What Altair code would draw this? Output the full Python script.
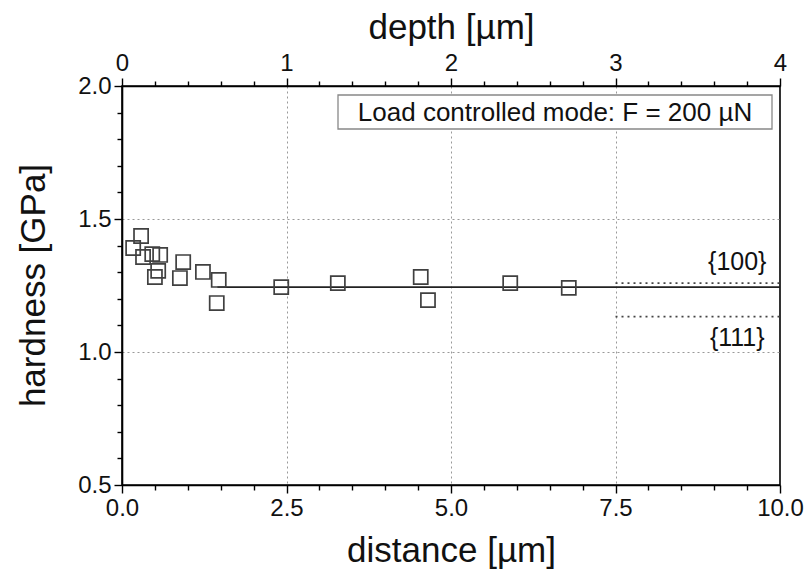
import altair as alt
import pandas as pd

# ---- data ----
distance = [0.17, 0.29, 0.32, 0.46, 0.58, 0.55, 0.50, 0.93, 0.88, 1.23, 1.47, 1.44,
            2.42, 3.28, 4.54, 4.65, 5.90, 6.79]
hardness = [1.391, 1.436, 1.357, 1.368, 1.365, 1.305, 1.282, 1.338, 1.278, 1.301,
            1.271, 1.184, 1.244, 1.259, 1.282, 1.195, 1.259, 1.241]

fit_distance = [1.45, 10.0]
fit_hardness = [1.244, 1.244]

ref_names = ["{100}", "{111}"]
ref_hardness = [1.259, 1.133]
ref_start = [7.5, 7.5]
ref_end = [10.0, 10.0]
ref_label_distance = [9.35, 9.35]
ref_label_hardness = [1.338, 1.053]

legend_text = ["Load controlled mode: F = 200 \u00b5N"]

distance_ticks = [0.0, 0.5, 1.0, 1.5, 2.0, 2.5, 3.0, 3.5, 4.0, 4.5, 5.0, 5.5, 6.0,
                  6.5, 7.0, 7.5, 8.0, 8.5, 9.0, 9.5, 10.0]
distance_major = [0.0, 2.5, 5.0, 7.5, 10.0]
distance_grid = [2.5, 5.0, 7.5]
hardness_ticks = [0.5, 0.6, 0.7, 0.8, 0.9, 1.0, 1.1, 1.2, 1.3, 1.4, 1.5, 1.6, 1.7,
                  1.8, 1.9, 2.0]
hardness_major = [0.5, 1.0, 1.5, 2.0]
hardness_grid = [1.0, 1.5]
depth_ticks = [0.0, 0.2, 0.4, 0.6, 0.8, 1.0, 1.2, 1.4, 1.6, 1.8, 2.0, 2.2, 2.4, 2.6,
               2.8, 3.0, 3.2, 3.4, 3.6, 3.8, 4.0]
depth_major = [0, 1, 2, 3, 4]
depth_domain = [0.0, 4.0]

FONT = "Liberation Sans"

pts = pd.DataFrame({"distance": distance, "hardness": hardness})
fit = pd.DataFrame({"distance": fit_distance, "hardness": fit_hardness})
refs = pd.DataFrame({"name": ref_names, "hardness": ref_hardness,
                     "distance": ref_start, "distance_end": ref_end})
labels = pd.DataFrame({"name": ref_names, "distance": ref_label_distance,
                       "hardness": ref_label_hardness})
leg = pd.DataFrame({"t": legend_text})
depth = pd.DataFrame({"depth": depth_domain})


def is_in(vals):
    arr = ",".join(str(v) for v in vals)
    return f"indexof([{arr}], datum.value) >= 0"


maj_x = is_in(distance_major)
maj_y = is_in(hardness_major)
maj_d = is_in(depth_major)
grid_x = is_in(distance_grid)
grid_y = is_in(hardness_grid)

x_axis = alt.Axis(
    title="distance [\u00b5m]", values=distance_ticks, tickCount=200,
    labelExpr=f"{maj_x} ? format(datum.value, '.1f') : ''",
    tickSize={"condition": {"test": maj_x, "value": 8}, "value": 5},
    grid=True, gridOpacity={"condition": {"test": grid_x, "value": 1}, "value": 0},
    gridDash=[2, 3], gridColor="#999", gridWidth=1,
    labelFlush=False, labelOverlap=False, labelBound=False,
    labelFontSize=24, labelPadding=3,
    titleFontSize=35, titleFontWeight="normal",
    titleX=329, titleY=76, titleBaseline="alphabetic", titleAlign="center",
)
y_axis = alt.Axis(
    title="hardness [GPa]", values=hardness_ticks, tickCount=200,
    labelExpr=f"{maj_y} ? format(datum.value, '.1f') : ''",
    tickSize={"condition": {"test": maj_y, "value": 8}, "value": 5},
    grid=True, gridOpacity={"condition": {"test": grid_y, "value": 1}, "value": 0},
    gridDash=[2, 3], gridColor="#999", gridWidth=1,
    labelOverlap=False, labelFontSize=24, labelPadding=3,
    titleFontSize=35, titleFontWeight="normal",
    titleX=-78, titleY=199, titleBaseline="alphabetic", titleAlign="center", titleAngle=270,
)
top_axis = alt.Axis(
    orient="top", title="depth [\u00b5m]", values=depth_ticks, tickCount=200,
    labelExpr=f"{maj_d} ? format(datum.value, 'd') : ''",
    tickSize={"condition": {"test": maj_d, "value": 8}, "value": 5},
    grid=False, labelFlush=False, labelOverlap=False, labelBound=False,
    labelFontSize=24, labelPadding=3,
    titleFontSize=35, titleFontWeight="normal",
    titleX=329, titleY=-48, titleBaseline="alphabetic", titleAlign="center",
)

xs = alt.Scale(domain=[0, 10], nice=False, zero=False)
ys = alt.Scale(domain=[0.5, 2.0], nice=False, zero=False)

points = alt.Chart(pts).mark_point(
    shape="square", filled=False, size=200, strokeWidth=1.7, color="#404040", opacity=1
).encode(
    x=alt.X("distance:Q", scale=xs, axis=x_axis),
    y=alt.Y("hardness:Q", scale=ys, axis=y_axis),
)
line = alt.Chart(fit).mark_line(color="#222", strokeWidth=1.8).encode(
    x="distance:Q", y="hardness:Q")
rules = alt.Chart(refs).mark_rule(color="#444", strokeWidth=1.6, strokeDash=[2, 4]).encode(
    x="distance:Q", x2="distance_end:Q", y="hardness:Q")
texts = alt.Chart(labels).mark_text(font=FONT, fontSize=25, color="#111",
                                    align="center", baseline="middle").encode(
    x="distance:Q", y="hardness:Q", text="name:N")
box = alt.Chart(leg).mark_rect(fill="white", stroke="#888", strokeWidth=1.3).encode(
    x=alt.value(216), x2=alt.value(650), y=alt.value(9), y2=alt.value(43))
box_text = alt.Chart(leg).mark_text(font=FONT, fontSize=26, color="#111",
                                    align="center", baseline="middle").encode(
    x=alt.value(433), y=alt.value(27), text="t:N")

main = alt.layer(rules, line, points, texts, box, box_text)

top = alt.Chart(depth).mark_point(opacity=0).encode(
    x=alt.X("depth:Q", scale=alt.Scale(domain=depth_domain, nice=False, zero=False),
            axis=top_axis))

chart = alt.layer(main, top).resolve_scale(x="independent").properties(
    width=658, height=399,
    autosize=alt.AutoSizeParams(type="none"),
    padding={"left": 122, "top": 86, "right": 28, "bottom": 87},
    background="white",
).configure_view(stroke="black", strokeWidth=1.6).configure_axis(
    labelFont=FONT, titleFont=FONT, labelColor="#111", titleColor="#111",
    domainColor="black", domainWidth=1.6, tickColor="black", tickWidth=1.4,
    labelOverlap=False,
)

chart.save("out.html", embed_options={"renderer": "svg", "actions": False})
